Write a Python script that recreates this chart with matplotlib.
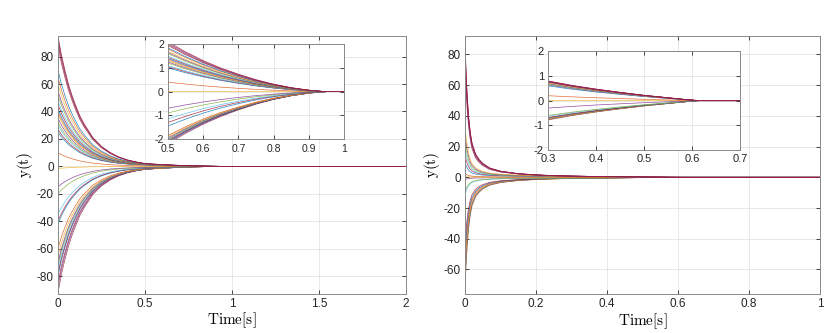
import numpy as np
import matplotlib.pyplot as plt
from matplotlib.ticker import FormatStrFormatter

plt.rcParams['font.family'] = ['Liberation Sans', 'DejaVu Sans']
plt.rcParams['mathtext.fontset'] = 'cm'

# MATLAB default line colours
colors = ['#0072BD', '#D95319', '#EDB120', '#7E2F8E', '#77AC30', '#4DBEEE', '#A2142F']

# ---- left panel: initial value y(0) and value at t=0.5 of each trajectory
left_y0 = [95, 93, 91, 88, 70, 65, 60, 55, 52, 48, 45, 42, 40, 38, 35, 32, 30, 27, 25, 10,
           -1.5,
           -15, -20, -35, -40, -42, -60, -65, -70, -72, -75, -78, -80, -85, -88, -92]
left_mid = [2.1, 2.05, 2.0, 1.95, 1.85, 1.8, 1.7, 1.65, 1.6, 1.5, 1.45, 1.4, 1.35, 1.3, 1.25, 1.2, 1.1, 1.05, 1.0, 0.4,
            0.0,
            -0.7, -0.9, -1.15, -1.3, -1.45, -1.85, -1.9, -1.95, -2.0, -2.0, -2.05, -2.1, -2.1, -2.15, -2.2]
# decay shape
left_t_early = [0, 0.02, 0.04, 0.06, 0.08, 0.1, 0.125, 0.15, 0.2, 0.25, 0.3, 0.35, 0.4, 0.45, 0.5]
left_early = [95, 81, 70, 60, 52, 45, 37, 31, 21, 14.5, 10, 6.8, 4.6, 3.1, 2.0]
left_t_late = [0.5, 0.55, 0.6, 0.65, 0.7, 0.75, 0.8, 0.85, 0.9, 0.93, 0.95, 1.0, 2.0]
left_late = [2.0, 1.6, 1.25, 0.95, 0.7, 0.48, 0.3, 0.16, 0.06, 0.02, 0, 0, 0]

# ---- right panel: initial value y(0) and value at t=0.3 of each trajectory
right_y0 = [91, 89, 87, 85, 80, 75, 35, 30, 25, 20, 15, 10,
            2.5, 0.6, -1.5,
            -10, -12, -45, -52, -58, -63, -68, -72, -75]
right_mid = [0.8, 0.79, 0.78, 0.77, 0.76, 0.75, 0.72, 0.7, 0.68, 0.66, 0.64, 0.6,
             0.2, 0.0, -0.3,
             -0.6, -0.63, -0.68, -0.7, -0.72, -0.74, -0.75, -0.76, -0.78]
right_t_early = [0, 0.003, 0.006, 0.01, 0.015, 0.02, 0.03, 0.04, 0.05, 0.07, 0.1, 0.15, 0.2, 0.25, 0.3]
right_early = [90, 68, 54, 40, 29, 22, 15, 11.5, 9, 6, 4, 2.4, 1.6, 1.1, 0.8]
right_t_late = [0.3, 0.35, 0.4, 0.45, 0.5, 0.55, 0.59, 0.615, 0.7, 1.0]
right_late = [0.8, 0.62, 0.47, 0.34, 0.22, 0.12, 0.04, 0, 0, 0]


def trajectories(y0s, mids, t_e, v_e, t_l, v_l):
    t_e, v_e, t_l, v_l = map(np.asarray, (t_e, v_e, t_l, v_l))
    shape_e = (v_e - v_e[-1]) / (v_e[0] - v_e[-1])
    shape_l = v_l / v_l[0]
    t = np.concatenate([t_e, t_l[1:]])
    out = []
    for y0, m in zip(y0s, mids):
        y = np.concatenate([m + (y0 - m) * shape_e, m * shape_l[1:]])
        out.append(y)
    return t, out


def style(ax, fs=8.5, xpad=3):
    ax.grid(True, color='#e4e4e4', linewidth=0.6)
    ax.set_axisbelow(True)
    ax.tick_params(direction='in', length=3, width=0.6, labelsize=fs, colors='#262626',
                   top=True, right=True, pad=3)
    ax.tick_params(axis='x', pad=xpad)
    for s in ax.spines.values():
        s.set_color('#8a8a8a')
        s.set_linewidth(0.7)
    ax.xaxis.set_major_formatter(FormatStrFormatter('%g'))
    ax.yaxis.set_major_formatter(FormatStrFormatter('%g'))


def draw(ax, t, ys, dark_from):
    # drawn last-to-first so the yellow trace ends on top, as in the original
    n = len(ys)
    for i in range(n - 1, -1, -1):
        c = colors[(i + 3) % 7]
        if abs(ys[i][0]) >= dark_from:
            c = ['#A2142F', '#7E2F8E', '#8B2A3A'][i % 3]
        ax.plot(t, ys[i], color=c, lw=0.5, alpha=0.85)


fig = plt.figure(figsize=(8.33, 3.33), dpi=100)

# left
t, ys = trajectories(left_y0, left_mid, left_t_early, left_early, left_t_late, left_late)
ax1 = fig.add_axes([0.0696, 0.117, 0.4178, 0.775])
draw(ax1, t, ys, 84)
ax1.set_xlim(0, 2)
ax1.set_ylim(-93, 95)
ax1.set_xticks([0, 0.5, 1, 1.5, 2])
ax1.set_yticks(np.arange(-80, 81, 20))
style(ax1)
ax1.set_xlabel(r'$\mathrm{Time[s]}$', fontsize=11, labelpad=0)
ax1.set_ylabel(r'$\mathrm{y(t)}$', fontsize=11, labelpad=1)

in1 = fig.add_axes([0.2017, 0.5826, 0.2113, 0.2844])
draw(in1, t, ys, 84)
in1.set_xlim(0.5, 1)
in1.set_ylim(-2, 2)
in1.set_xticks([0.5, 0.6, 0.7, 0.8, 0.9, 1])
in1.set_yticks([-2, -1, 0, 1, 2])
style(in1, fs=7.5, xpad=3.5)

# right
t, ys = trajectories(right_y0, right_mid, right_t_early, right_early, right_t_late, right_late)
ax2 = fig.add_axes([0.5582, 0.117, 0.4262, 0.775])
draw(ax2, t, ys, 74)
ax2.set_xlim(0, 1)
ax2.set_ylim(-76, 92)
ax2.set_xticks([0, 0.2, 0.4, 0.6, 0.8, 1])
ax2.set_yticks(np.arange(-60, 81, 20))
style(ax2)
ax2.set_xlabel(r'$\mathrm{Time[s]}$', fontsize=11, labelpad=1)
ax2.set_ylabel(r'$\mathrm{y(t)}$', fontsize=11, labelpad=1)

in2 = fig.add_axes([0.6579, 0.5495, 0.2305, 0.2964])
draw(in2, t, ys, 74)
in2.set_xlim(0.3, 0.7)
in2.set_ylim(-2, 2)
in2.set_xticks([0.3, 0.4, 0.5, 0.6, 0.7])
in2.set_yticks([-2, -1, 0, 1, 2])
style(in2, fs=8, xpad=3)

fig.savefig('out.png', dpi=100)
